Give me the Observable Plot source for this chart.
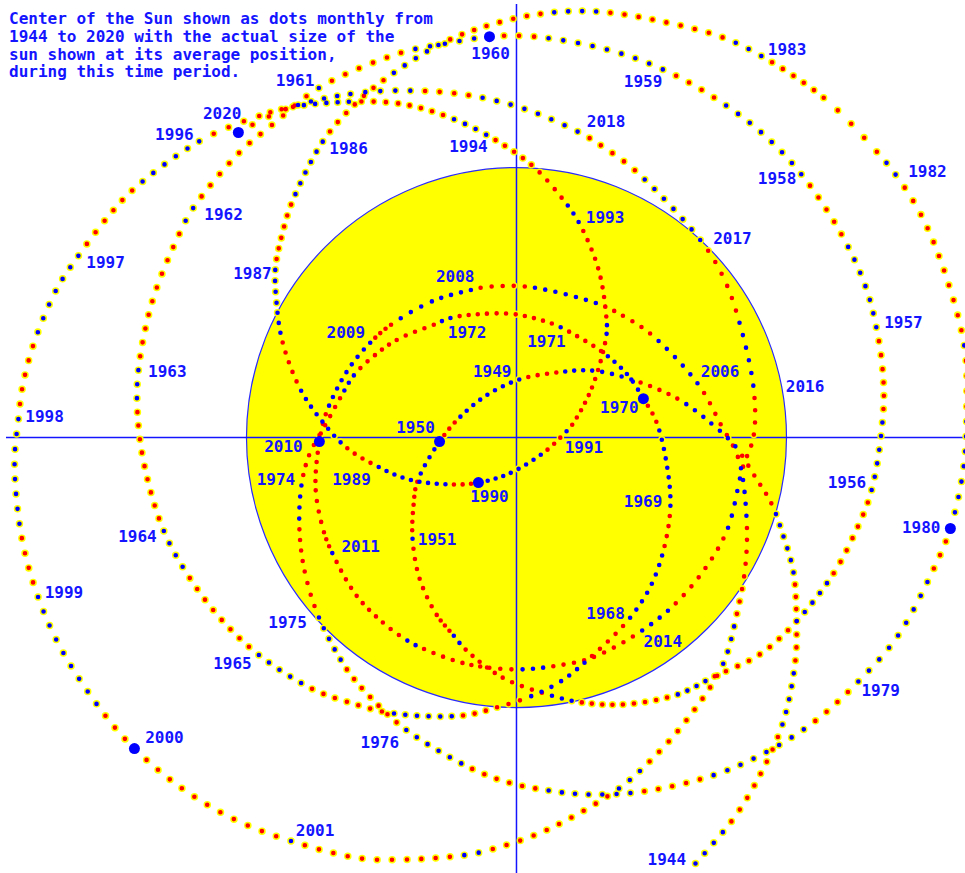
<!DOCTYPE html>
<html><head><meta charset="utf-8">
<script src="https://cdn.jsdelivr.net/npm/d3@7"></script>
<script src="https://cdn.jsdelivr.net/npm/@observablehq/plot@0.6"></script>
<style>
body{margin:0;background:#fff}
#chart{width:965px;height:873px;overflow:hidden}
</style>
</head><body><div id="chart"></div>
<script>
// Sun centre position (solar radii, relative to the barycentre) at selected months
const trackDate = [
"1944-01","1944-05","1944-08","1945-01","1945-06","1945-09","1946-01","1946-04","1946-07","1946-10",
"1947-01","1947-04","1947-08","1948-01","1948-05","1948-09","1949-01","1949-05","1949-09",
"1950-01","1950-06","1950-09","1951-01","1951-05","1951-09","1952-01","1952-03","1952-08",
"1953-01","1953-04","1953-08","1954-01","1954-05","1954-09","1955-01","1955-06","1955-09",
"1956-01","1956-07","1956-10","1957-01","1957-04","1957-08","1958-01","1958-05","1958-09",
"1959-01","1959-05","1959-10",
"1960-01","1960-04","1960-07","1961-01","1961-05","1961-08","1962-01","1962-03","1962-08",
"1963-01","1963-04","1963-08","1964-01","1964-05","1964-09","1965-01","1965-06","1965-09",
"1966-01","1966-07","1966-10","1967-01","1967-04","1967-08","1968-01","1968-05","1968-09",
"1969-01","1969-05","1969-10",
"1970-01","1970-04","1970-08","1971-01","1971-02","1971-06","1971-09","1972-01","1972-03","1972-07","1972-10",
"1973-01","1973-04","1973-07","1973-10","1974-01","1974-05","1974-09","1975-01","1975-06","1975-09",
"1976-01","1976-07","1976-10","1977-01","1977-04","1977-08","1978-01","1978-05","1978-09",
"1979-01","1979-05","1979-10",
"1980-01","1980-05","1980-09","1981-01","1981-06","1981-10","1982-01","1982-03","1982-07",
"1983-01","1983-04","1983-08","1984-01","1984-05","1984-09","1985-01","1985-06","1985-09",
"1986-01","1986-07","1986-10","1987-01","1987-04","1987-08","1988-01","1988-05","1988-09",
"1989-01","1989-05","1989-10",
"1990-01","1990-05","1990-10","1991-01","1991-02","1991-07","1992-01","1992-03","1992-08",
"1993-01","1993-04","1993-08","1994-01","1994-05","1994-09","1995-01","1995-06","1995-09",
"1996-01","1996-07","1996-10","1997-01","1997-04","1997-08","1997-11","1998-01","1998-04","1998-09",
"1999-01","1999-05","1999-10",
"2000-01","2000-05","2000-09","2001-01","2001-06","2001-09","2002-01","2002-03","2002-07",
"2003-01","2003-04","2003-08","2004-01","2004-05","2004-09","2005-01","2005-06","2005-09",
"2006-01","2006-07","2006-10","2007-01","2007-08","2007-12","2008-01","2008-05","2008-09",
"2009-01","2009-05","2009-10",
"2010-01","2010-06","2010-10","2011-01","2011-06","2011-10","2012-01","2012-03","2012-07","2012-10",
"2013-01","2013-04","2013-08","2014-01","2014-05","2014-09","2015-01","2015-06","2015-09",
"2016-01","2016-07","2016-10","2017-01","2017-08","2017-11","2018-01","2018-05","2018-09",
"2019-01","2019-05","2019-10","2020-01"];

const trackX = [
0.663,0.796,0.881,0.985,1.033,1.037,1.026,0.989,0.944,0.881,
0.811,0.722,0.596,0.426,0.281,0.148,0.011,-0.107,-0.207,
-0.285,-0.367,-0.381,-0.385,-0.359,-0.296,-0.233,-0.189,-0.052,
0.130,0.241,0.393,0.596,0.733,0.900,1.037,1.174,1.244,
1.315,1.359,1.356,1.333,1.293,1.204,1.056,0.907,0.733,
0.544,0.337,0.067,
-0.100,-0.263,-0.426,-0.730,-0.904,-1.026,-1.196,-1.248,-1.348,
-1.400,-1.404,-1.378,-1.307,-1.211,-1.093,-0.956,-0.759,-0.630,
-0.456,-0.200,-0.074,0.052,0.163,0.278,0.419,0.500,0.548,
0.570,0.559,0.519,
0.470,0.411,0.315,0.167,0.133,0.000,-0.107,-0.241,-0.304,-0.441,-0.522,
-0.600,-0.652,-0.707,-0.767,-0.796,-0.804,-0.785,-0.733,-0.630,-0.544,
-0.411,-0.167,-0.030,0.115,0.263,0.470,0.726,0.922,1.104,
1.263,1.411,1.544,
1.607,1.656,1.667,1.659,1.585,1.500,1.407,1.337,1.141,
0.911,0.767,0.559,0.300,0.093,-0.107,-0.285,-0.489,-0.596,
-0.715,-0.833,-0.870,-0.893,-0.889,-0.867,-0.800,-0.722,-0.630,
-0.515,-0.396,-0.237,
-0.141,-0.026,0.111,0.181,0.204,0.278,0.333,0.333,0.304,
0.233,0.170,0.059,-0.107,-0.267,-0.433,-0.615,-0.822,-0.948,
-1.170,-1.419,-1.522,-1.619,-1.704,-1.789,-1.830,-1.844,-1.859,-1.833,
-1.774,-1.681,-1.526,
-1.415,-1.244,-1.052,-0.841,-0.578,-0.411,-0.200,-0.093,0.107,
0.374,0.489,0.626,0.763,0.815,0.848,0.852,0.822,0.759,
0.674,0.500,0.400,0.300,0.037,-0.126,-0.163,-0.307,-0.459,
-0.537,-0.626,-0.704,
-0.730,-0.744,-0.715,-0.685,-0.596,-0.500,-0.411,-0.348,-0.207,-0.107,
0.015,0.130,0.281,0.459,0.585,0.696,0.781,0.837,0.878,
0.878,0.815,0.763,0.685,0.444,0.319,0.233,0.037,-0.170,
-0.385,-0.607,-0.848,-1.030];

const trackY = [
-1.578,-1.422,-1.289,-1.063,-0.826,-0.681,-0.500,-0.367,-0.244,-0.141,
-0.033,0.052,0.144,0.215,0.248,0.241,0.215,0.159,0.078,
-0.015,-0.163,-0.248,-0.374,-0.522,-0.656,-0.733,-0.785,-0.889,
-0.956,-0.981,-0.989,-0.952,-0.885,-0.804,-0.681,-0.504,-0.374,
-0.196,0.104,0.252,0.407,0.559,0.752,0.974,1.130,1.259,
1.363,1.437,1.485,
1.485,1.459,1.426,1.296,1.159,1.056,0.852,0.756,0.507,
0.252,0.096,-0.104,-0.344,-0.519,-0.674,-0.804,-0.930,-0.978,
-1.022,-1.030,-1.000,-0.959,-0.904,-0.811,-0.670,-0.544,-0.404,
-0.256,-0.115,0.056,
0.144,0.233,0.319,0.407,0.422,0.456,0.459,0.444,0.419,0.363,0.307,
0.233,0.148,0.048,-0.063,-0.174,-0.337,-0.493,-0.663,-0.856,-0.959,
-1.081,-1.226,-1.278,-1.307,-1.322,-1.311,-1.252,-1.167,-1.052,
-0.907,-0.737,-0.489,
-0.337,-0.111,0.111,0.337,0.615,0.822,0.970,1.056,1.256,
1.411,1.481,1.537,1.578,1.570,1.526,1.456,1.326,1.237,
1.100,0.867,0.744,0.626,0.504,0.356,0.178,0.063,-0.037,
-0.107,-0.156,-0.174,
-0.167,-0.133,-0.048,0.019,0.044,0.181,0.378,0.444,0.622,
0.793,0.885,1.007,1.119,1.193,1.237,1.244,1.226,1.193,
1.100,0.919,0.807,0.678,0.548,0.344,0.185,0.074,-0.093,-0.367,
-0.585,-0.793,-1.026,
-1.152,-1.296,-1.411,-1.493,-1.559,-1.563,-1.548,-1.526,-1.456,
-1.304,-1.204,-1.052,-0.844,-0.659,-0.474,-0.296,-0.078,0.044,
0.196,0.381,0.448,0.496,0.559,0.556,0.548,0.507,0.422,
0.356,0.248,0.093,
-0.015,-0.189,-0.344,-0.422,-0.581,-0.681,-0.748,-0.781,-0.833,-0.852,
-0.859,-0.848,-0.815,-0.719,-0.619,-0.489,-0.341,-0.115,0.004,
0.185,0.463,0.600,0.726,0.985,1.078,1.130,1.215,1.267,
1.285,1.274,1.219,1.130];

// number of blue monthly dots at the start of each year, 1944 .. 2020 (the rest of the year is red)
const blueMonths = [
4,5,6,7,8,9,
5,1,2,3,4,5,6,7,8,9,
6,1,2,3,4,5,6,7,8,9,
7,1,2,3,4,5,6,7,8,9,
8,1,2,3,4,5,6,7,8,9,
9,1,2,3,4,5,6,7,8,9,
1,1,2,3,4,5,6,7,8,9,
1,1,2,3,4,5,6,7,8,9,
1];

// year labels and where they sit (solar radii)
const labelYear = [1944,1949,1950,1951,1956,1957,1958,1959,1960,1961,1962,1963,1964,1965,1968,1969,1970,1971,1972,1974,1975,1976,1979,1980,1982,1983,1986,1987,1989,1990,1991,1993,1994,1996,1997,1998,1999,2000,2001,2006,2008,2009,2010,2011,2014,2016,2017,2018,2020];
const labelX = [0.557,-0.090,-0.374,-0.294,1.224,1.433,0.965,0.469,-0.096,-0.820,-1.085,-1.293,-1.404,-1.052,0.330,0.469,0.381,0.111,-0.183,-0.891,-0.848,-0.506,1.349,1.499,1.522,1.002,-0.622,-0.978,-0.611,-0.100,0.250,0.328,-0.178,-1.267,-1.522,-1.748,-1.676,-1.304,-0.746,0.754,-0.227,-0.632,-0.863,-0.577,0.542,1.069,0.800,0.332,-1.090];
const labelY = [-1.566,0.244,0.034,-0.379,-0.169,0.423,0.959,1.319,1.421,1.322,0.825,0.242,-0.369,-0.840,-0.654,-0.240,0.109,0.356,0.386,-0.157,-0.688,-1.130,-0.938,-0.336,0.983,1.436,1.069,0.606,-0.157,-0.219,-0.040,0.814,1.075,1.122,0.647,0.075,-0.574,-1.111,-1.457,0.244,0.596,0.386,-0.033,-0.404,-0.757,0.186,0.736,1.168,1.199];

const titleLines = [
"Center of the Sun shown as dots monthly from",
"1944 to 2020 with the actual size of the",
"sun shown at its average position,",
"during this time period."];

const xDomain = [-1.911, 1.663];
const yDomain = [-1.615, 1.619];
const sunRadius = 1;

const W = 965, H = 873;
const BLUE = "#0000ff", RED = "#ff0000", YEL = "#ffff00", INK = "#1414ff";
const FONT = "DejaVu Sans Mono, Liberation Mono, monospace";

const track = trackDate.map((s, i) => {
  const yr = +s.slice(0, 4), mo = +s.slice(5, 7);
  return {year: yr, month: mo, t: (yr - 1944) * 12 + mo - 1, x: trackX[i], y: trackY[i]};
});
const decadeDots = track.filter(d => d.month === 1 && d.year % 10 === 0);
const labels = labelYear.map((yr, i) => ({text: String(yr), x: labelX[i], y: labelY[i]}));

const probe = Plot.scale({x: {domain: xDomain, range: [0, W]}});
const sunPx = probe.apply(sunRadius) - probe.apply(0);

const lineOpts = {x: "x", y: "y", curve: "catmull-rom", strokeLinecap: "round", strokeLinejoin: "round"};

const plot = Plot.plot({
  width: W, height: H, margin: 0,
  x: {domain: xDomain, axis: null},
  y: {domain: yDomain, axis: null},
  style: {background: "#ffffff"},
  marks: [
    Plot.dot([{x: 0, y: 0}], {x: "x", y: "y", r: sunPx, fill: YEL, stroke: "#2a2aff", strokeWidth: 1.2}),
    Plot.ruleX([0], {stroke: INK, strokeWidth: 1.5, insetTop: 4}),
    Plot.ruleY([0], {stroke: INK, strokeWidth: 1.5, insetLeft: 6}),
    Plot.line(track, {...lineOpts, stroke: YEL, strokeWidth: 7.5}),
    Plot.line(track, {...lineOpts, stroke: RED, strokeWidth: 4.6}),
    Plot.line(track, {...lineOpts, stroke: BLUE, strokeWidth: 4.6}),
    Plot.dot(decadeDots, {x: "x", y: "y", r: 5.5, fill: BLUE}),
    Plot.text(labels, {x: "x", y: "y", text: "text", fill: INK, fontFamily: FONT, fontWeight: "bold", fontSize: 16}),
    Plot.text([titleLines.join("\n")], {frameAnchor: "top-left", text: d => d, textAnchor: "start", lineAnchor: "top",
      dx: 8.5, dy: 11, lineHeight: 1.11, fill: INK, fontFamily: FONT, fontWeight: "bold", fontSize: 16})
  ]
});
document.getElementById("chart").append(plot);

// turn the three track lines into monthly dots (yellow ring + red/blue centre)
(function dotify() {
  const groups = plot.querySelectorAll('g[aria-label="line"]');
  const paths = [...groups].map(g => g.querySelector("path"));
  const d = paths[0].getAttribute("d");
  const cmds = d.match(/[MLC][^MLC]*/g);
  const nums = s => s.slice(1).split(/[\s,]+/).filter(v => v !== "").map(Number);
  const tmp = document.createElementNS("http://www.w3.org/2000/svg", "path");
  plot.appendChild(tmp);
  let p = nums(cmds[0]);
  let cx = p[0], cy = p[1];
  const cum = [0];
  for (let i = 1; i < cmds.length; i++) {
    tmp.setAttribute("d", `M${cx},${cy}${cmds[i]}`);
    cum.push(cum[cum.length - 1] + tmp.getTotalLength());
    const n = nums(cmds[i]);
    cx = n[n.length - 2]; cy = n[n.length - 1];
  }
  tmp.remove();
  const total = cum[cum.length - 1];
  const tEnd = track[track.length - 1].t;
  const ring = [], red = [], blue = [];
  let k = 0;
  for (let m = 0; m <= tEnd; m++) {
    while (k < track.length - 2 && track[k + 1].t <= m) k++;
    const a = track[k], b = track[k + 1];
    const s = cum[k] + (m - a.t) / (b.t - a.t) * (cum[k + 1] - cum[k]);
    const yr = 1944 + Math.floor(m / 12), mo = m % 12;
    ring.push(s);
    (mo < blueMonths[yr - 1944] ? blue : red).push(s);
  }
  function apply(path, offs) {
    const arr = [];
    for (let i = 0; i < offs.length; i++) arr.push(0, i < offs.length - 1 ? Math.max(0.01, offs[i + 1] - offs[i]) : total * 3 + 100);
    path.setAttribute("stroke-dasharray", arr.map(v => v.toFixed(2)).join(" "));
    path.setAttribute("stroke-dashoffset", (-offs[0]).toFixed(2));
  }
  apply(paths[0], ring);
  apply(paths[1], red);
  apply(paths[2], blue);
})();
</script>
</body></html>
